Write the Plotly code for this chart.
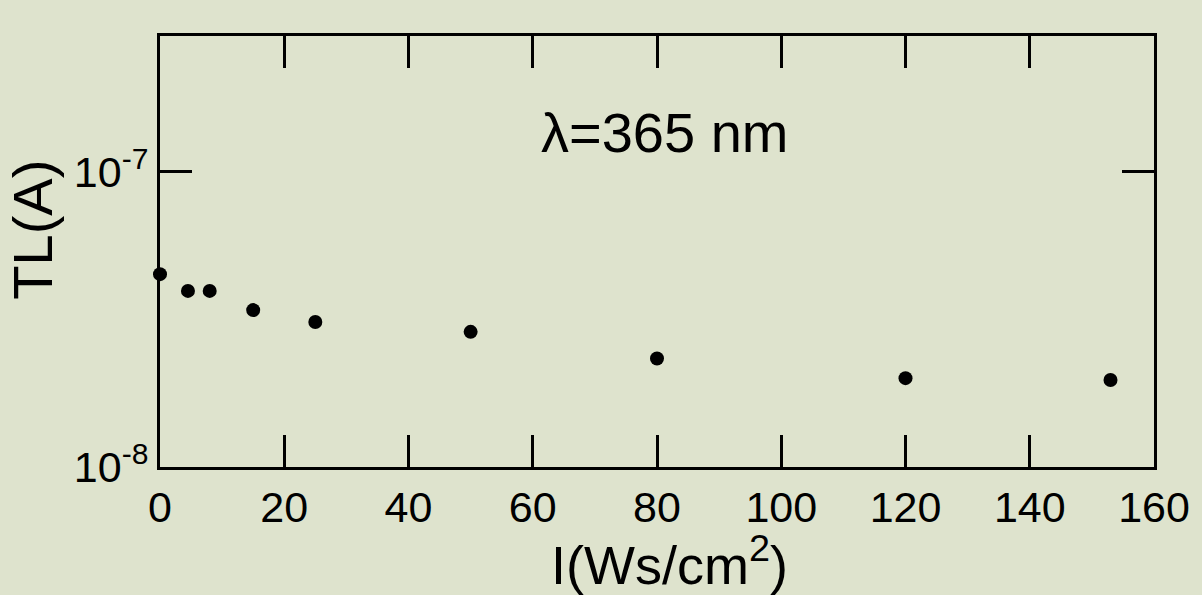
import plotly.graph_objects as go

# Data (TL current vs. irradiation dose, lambda = 365 nm)
dose = [0, 4.5, 8, 15, 25, 50, 80, 120, 153]
tl_current = [4.5e-8, 3.95e-8, 3.95e-8, 3.4e-8, 3.1e-8, 2.87e-8, 2.33e-8, 2.0e-8, 1.97e-8]

x_ticks = [0, 20, 40, 60, 80, 100, 120, 140, 160]
y_tickvals = [1e-8, 1e-7]
y_ticktext = ["10<sup>-8</sup>", "10<sup>-7</sup>"]

x_title = "I(Ws/cm<sup>2</sup>)"
y_title = "TL(A)"
label_text = "λ=365 nm"

BG = "#dee3cd"
FONT = "Liberation Sans"

fig = go.Figure()
fig.add_trace(go.Scatter(
    x=dose, y=tl_current, mode="markers",
    marker=dict(color="black", size=14),
    showlegend=False, cliponaxis=False,
))

axis_common = dict(
    showline=True, linecolor="black", linewidth=3,
    mirror="ticks", ticks="inside", ticklen=32, tickwidth=2.5,
    tickcolor="black", showgrid=False, zeroline=False,
    tickfont=dict(family=FONT, size=43, color="black"),
)

fig.update_layout(
    width=1202, height=595,
    margin=dict(l=160, r=43, t=36, b=128),
    paper_bgcolor=BG, plot_bgcolor=BG,
    xaxis=dict(range=[0, 160], tickvals=x_ticks, **axis_common),
    yaxis=dict(type="log", range=[-8, -6.54], tickvals=y_tickvals,
               ticktext=y_ticktext, **axis_common),
    annotations=[
        dict(text=label_text, x=0.508, y=0.775, xref="paper", yref="paper",
             showarrow=False, font=dict(family=FONT, size=56, color="black"),
             xanchor="center", yanchor="middle"),
        dict(text=x_title, x=0.5125, y=-0.218, xref="paper", yref="paper",
             showarrow=False, font=dict(family=FONT, size=54, color="black"),
             xanchor="center", yanchor="middle"),
        dict(text=y_title, x=-0.128, y=0.55, xref="paper", yref="paper",
             showarrow=False, textangle=-90,
             font=dict(family=FONT, size=56, color="black"),
             xanchor="center", yanchor="middle"),
    ],
)

fig.write_html(
    "out.html",
    config={"displayModeBar": False},
    post_script="document.body.style.margin='0';document.body.style.overflow='hidden';",
)
